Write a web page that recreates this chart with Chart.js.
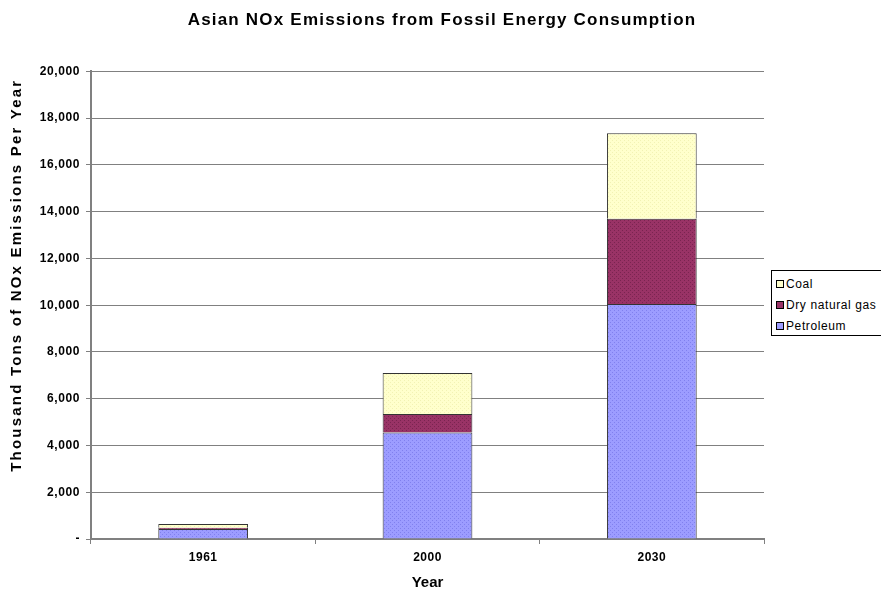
<!DOCTYPE html>
<html>
<head>
<meta charset="utf-8">
<script src="https://cdn.jsdelivr.net/npm/chart.js@4/dist/chart.umd.min.js"></script>
<style>
  html, body { margin: 0; padding: 0; background: #fff; }
  #wrap { position: relative; width: 881px; height: 590px; }
  #legend {
    position: absolute; left: 771px; top: 270px; width: 112px; height: 66px;
    border: 1px solid #000; background: #fff; box-sizing: border-box;
    font: 12px "Liberation Sans", Arial, sans-serif; letter-spacing: 0.6px; color: #000;
    padding: 6px 0 0 4px;
  }
  #legend div { height: 21px; line-height: 14px; white-space: nowrap; }
  #legend span.sw {
    display: inline-block; width: 6px; height: 6px; border: 1px solid #000;
    margin-right: 2px; vertical-align: 0px;
  }
</style>
</head>
<body>
<div id="wrap">
  <canvas id="c" width="881" height="590"></canvas>
  <div id="legend"></div>
</div>
<script>
// Years shown on the category axis
const years = ['1961', '2000', '2030'];
// Emissions by fuel, thousand tons of NOx per year
const petroleum = [430, 4550, 10050];
const dryNaturalGas = [50, 800, 3650];
const coal = [160, 1750, 3650];
// Value-axis tick values
const yTicks = [0, 2000, 4000, 6000, 8000, 10000, 12000, 14000, 16000, 18000, 20000];

// Stippled fill used for each fuel segment
function stipple(base, dot) {
  const p = document.createElement('canvas');
  p.width = 4; p.height = 4;
  const g = p.getContext('2d');
  g.fillStyle = base; g.fillRect(0, 0, 4, 4);
  g.fillStyle = dot;
  g.fillRect(0, 0, 1, 1);
  g.fillRect(2, 2, 1, 1);
  return g.createPattern(p, 'repeat');
}
const ctx = document.getElementById('c').getContext('2d');
const fills = {
  petroleum: stipple('#9c9cff', '#8080ee'),
  gas: stipple('#993366', '#7a2450'),
  coal: stipple('#ffffcc', '#f2f2b4')
};

const FONT = '"Liberation Sans", Arial, sans-serif';

// Wrap a drawing method so its text is drawn with extra letter spacing
// and an optional shift
function spaced(obj, method, sp, dx = 0, dy = 0) {
  const flag = '_spaced_' + method;
  if (!obj || obj[flag]) return;
  const orig = obj[method];
  obj[method] = function (...args) {
    const c = this.ctx;
    const prev = c.letterSpacing;
    c.save();
    c.translate(dx, dy);
    c.letterSpacing = sp;
    try { return orig.apply(this, args); } finally { c.letterSpacing = prev; c.restore(); }
  };
  obj[flag] = true;
}
const letterSpacingPlugin = {
  id: 'letterSpacing',
  beforeDraw(chart) {
    // centre the heading across the whole canvas, legend column included
    chart.titleBlock.left = 0;
    chart.titleBlock.right = 884;
    spaced(chart.titleBlock, 'draw', '1.2px');
    spaced(chart.scales.y, 'drawLabels', '0.6px');
    spaced(chart.scales.y, 'drawTitle', '2.2px', 0, -30);
    spaced(chart.scales.x, 'drawLabels', '0.5px');
  }
};

new Chart(ctx, {
  type: 'bar',
  data: {
    labels: years,
    datasets: [
      { label: 'Petroleum', data: petroleum, backgroundColor: fills.petroleum },
      { label: 'Dry natural gas', data: dryNaturalGas, backgroundColor: fills.gas },
      { label: 'Coal', data: coal, backgroundColor: fills.coal }
    ].map(d => Object.assign(d, {
      borderColor: '#333', borderWidth: 1, barPercentage: 0.4, categoryPercentage: 1
    }))
  },
  plugins: [letterSpacingPlugin],
  options: {
    responsive: false,
    animation: false,
    layout: { padding: { left: 4, right: 117, top: 0, bottom: 0 } },
    plugins: {
      legend: { display: false },
      tooltip: { enabled: false },
      title: {
        display: true,
        text: 'Asian NOx Emissions from Fossil Energy Consumption',
        color: '#000',
        font: { family: FONT, size: 17, weight: 'bold' },
        padding: { top: 10, bottom: 41 }
      }
    },
    scales: {
      x: {
        stacked: true,
        afterFit: s => { s.height = 51; },
        grid: { drawOnChartArea: false, offset: true, tickLength: 5, color: '#808080', lineWidth: 1 },
        border: { color: '#808080', width: 2 },
        ticks: { color: '#000', font: { family: FONT, size: 12, weight: 'bold' }, padding: 6 },
        title: {
          display: true, text: 'Year', color: '#000',
          font: { family: FONT, size: 15, weight: 'bold', lineHeight: 1 }, padding: { top: 0, bottom: 0 }
        }
      },
      y: {
        stacked: true,
        min: 0, max: 20000,
        afterBuildTicks: s => { s.ticks = yTicks.map(v => ({ value: v })); },
        afterFit: s => { s.width = 87; },
        grid: { color: '#808080', lineWidth: 1, tickLength: 5 },
        border: { color: '#808080', width: 2 },
        ticks: {
          color: '#000', padding: 6,
          font: { family: FONT, size: 12, weight: 'bold' },
          callback: v => v === 0 ? '-' : v.toLocaleString('en-US')
        },
        title: {
          display: true, text: 'Thousand Tons of NOx Emissions Per Year', color: '#000',
          font: { family: FONT, size: 15, weight: 'bold' }, padding: { top: 4, bottom: 0 }
        }
      }
    }
  }
});

// Legend box, listed top to bottom in stack order
const legendItems = [
  ['Coal', '#ffffcc'],
  ['Dry natural gas', '#993366'],
  ['Petroleum', '#9c9cff']
];
document.getElementById('legend').innerHTML = legendItems
  .map(([t, c]) => `<div><span class="sw" style="background:${c}"></span>${t}</div>`).join('');
</script>
</body>
</html>
